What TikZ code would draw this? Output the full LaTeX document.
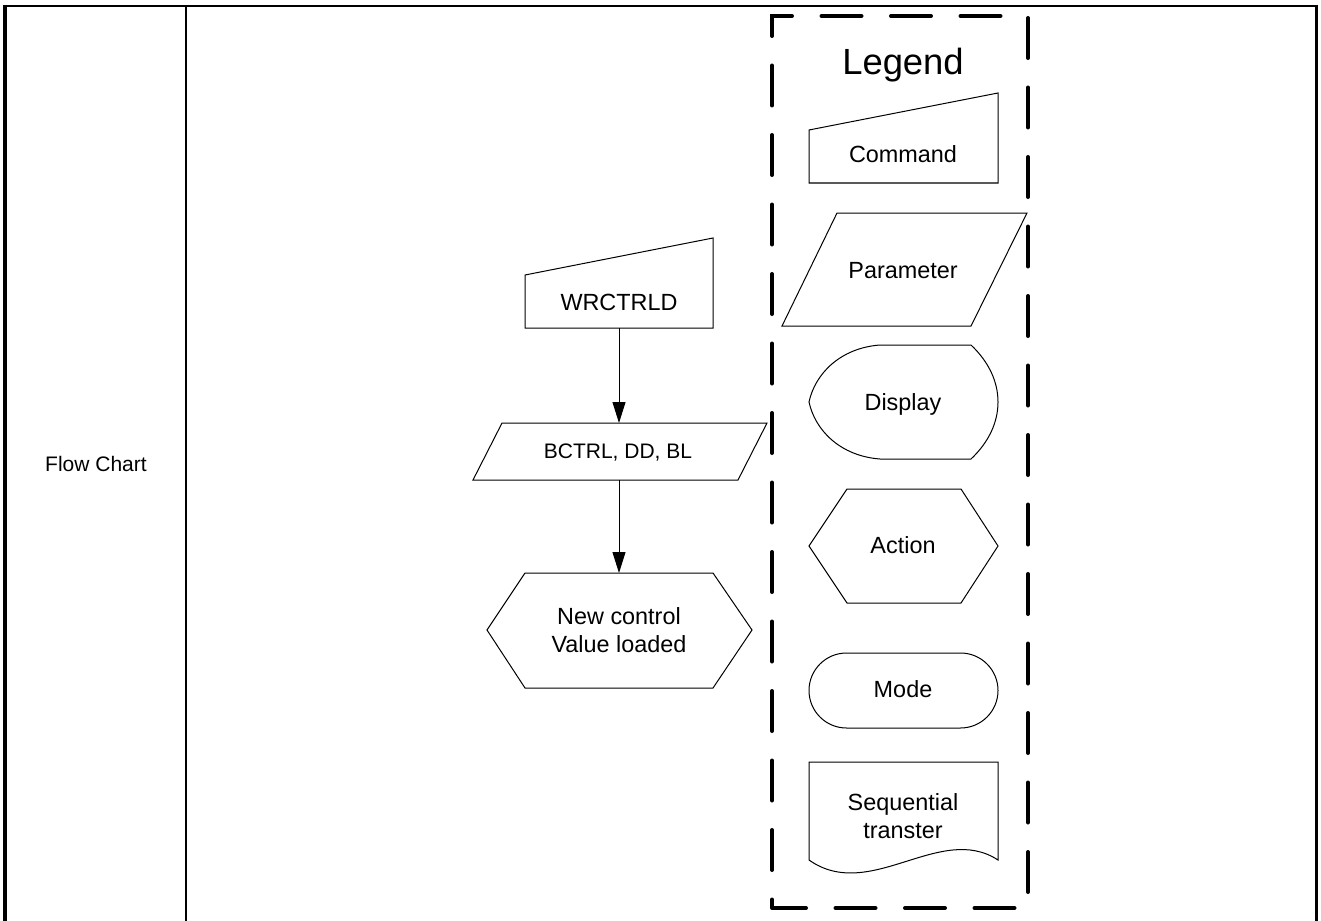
\documentclass[tikz,border=0pt]{standalone}
\usepackage{fontspec}
\setmainfont{Liberation Sans}
\usetikzlibrary{arrows.meta,calc}
\tikzset{
  frameline/.style={draw=black},
  shp/.style={draw=black, line width=1pt, line join=miter},
  bbox/.style={draw=none, inner sep=0pt, outer sep=0pt},
  lbl/.style={inner sep=0pt, outer sep=0pt, anchor=base, font=\fontsize{23.4}{28}\selectfont},
  small/.style={inner sep=0pt, outer sep=0pt, anchor=base, font=\fontsize{21}{25}\selectfont},
  twoline/.style={inner sep=0pt, outer sep=0pt, align=center, font=\fontsize{23.4}{28}\selectfont},
  flow/.style={draw=black, line width=1pt, -{Triangle[length=21pt,width=13pt]}},
  legendbox/.style={draw=black, line width=4pt, line cap=round, dash pattern=on 40pt off 29.5pt, dash phase=31.5pt}
}
\begin{document}
\begin{tikzpicture}[x=1pt,y=-1pt]
\useasboundingbox (0,0) rectangle (1321,920);
% frame
\draw[frameline, line width=2pt] (2.7,5.7) -- (1318.3,5.7);
\draw[frameline, line width=4pt] (4.7,4.7) -- (4.7,922);
\draw[frameline, line width=2.3pt] (186,5.7) -- (186,922);
\draw[frameline, line width=3.5pt] (1316.5,4.7) -- (1316.5,922);
\node[small] (fc) at (96,471) {Flow Chart};

% flow chart shapes (bounding nodes)
\node[bbox, minimum width=188pt, minimum height=90pt] (wr) at (619,283) {};
\node[bbox, minimum width=294pt, minimum height=57pt] (par) at (619,451.5) {};
\node[bbox, minimum width=265pt, minimum height=115pt] (hex) at (619,630.5) {};
\draw[shp] (525,275) -- (713,238) -- (713,328) -- (525,328) -- cycle;
\draw[shp] (502,423) -- (767,423) -- (738,480) -- (473,480) -- cycle;
\draw[shp] (487,630) -- (525,573) -- (713,573) -- (752,630) -- (713,688) -- (525,688) -- cycle;
\node[lbl] (wrT) at (619,310) {WRCTRLD};
\node[small] (parT) at (618,458) {BCTRL, DD, BL};
\node[twoline] (hexT) at (619,630.5) {New control\\Value loaded};
\draw[flow] (wr.south) -- (wr.south |- par.north);
\draw[flow] (par.south) -- (par.south |- hex.north);

% legend
\draw[legendbox] (772,908) -- (772,16) -- (1028,16) -- (1028,908) -- cycle;
\node[inner sep=0pt, anchor=base, font=\fontsize{36.4}{42}\selectfont] (lg) at (903,75) {Legend};
\draw[shp] (809,130) -- (998,93) -- (998,183) -- (809,183) -- cycle;
\node[lbl] (lcmd) at (903,163) {Command};
\draw[shp] (837,213) -- (1027,213) -- (971,326) -- (782,326) -- cycle;
\node[lbl] (lpar) at (903,278) {Parameter};
\draw[shp] (880,345) -- (971,345) .. controls (989,362) and (998,382) .. (998,402)
  .. controls (998,422) and (989,442) .. (971,459) -- (880,459)
  .. controls (840,456) and (815,430) .. (809,402)
  .. controls (815,374) and (840,348) .. (880,345) -- cycle;
\node[lbl] (ldis) at (903,410) {Display};
\draw[shp] (809,546) -- (847,489) -- (961,489) -- (998,546) -- (961,603) -- (847,603) -- cycle;
\node[lbl] (lact) at (903,553) {Action};
\draw[shp, rounded corners=37.5pt] (809,653) rectangle (998,728);
\node[lbl] (lmode) at (903,697) {Mode};
\draw[shp] (809,860) -- (809,762) -- (998,762) -- (998,860)
  .. controls (940,822) and (870,903) .. (809,860);
\node[twoline] (lseq) at (903,816.5) {Sequential\\transter};
\end{tikzpicture}
\end{document}
